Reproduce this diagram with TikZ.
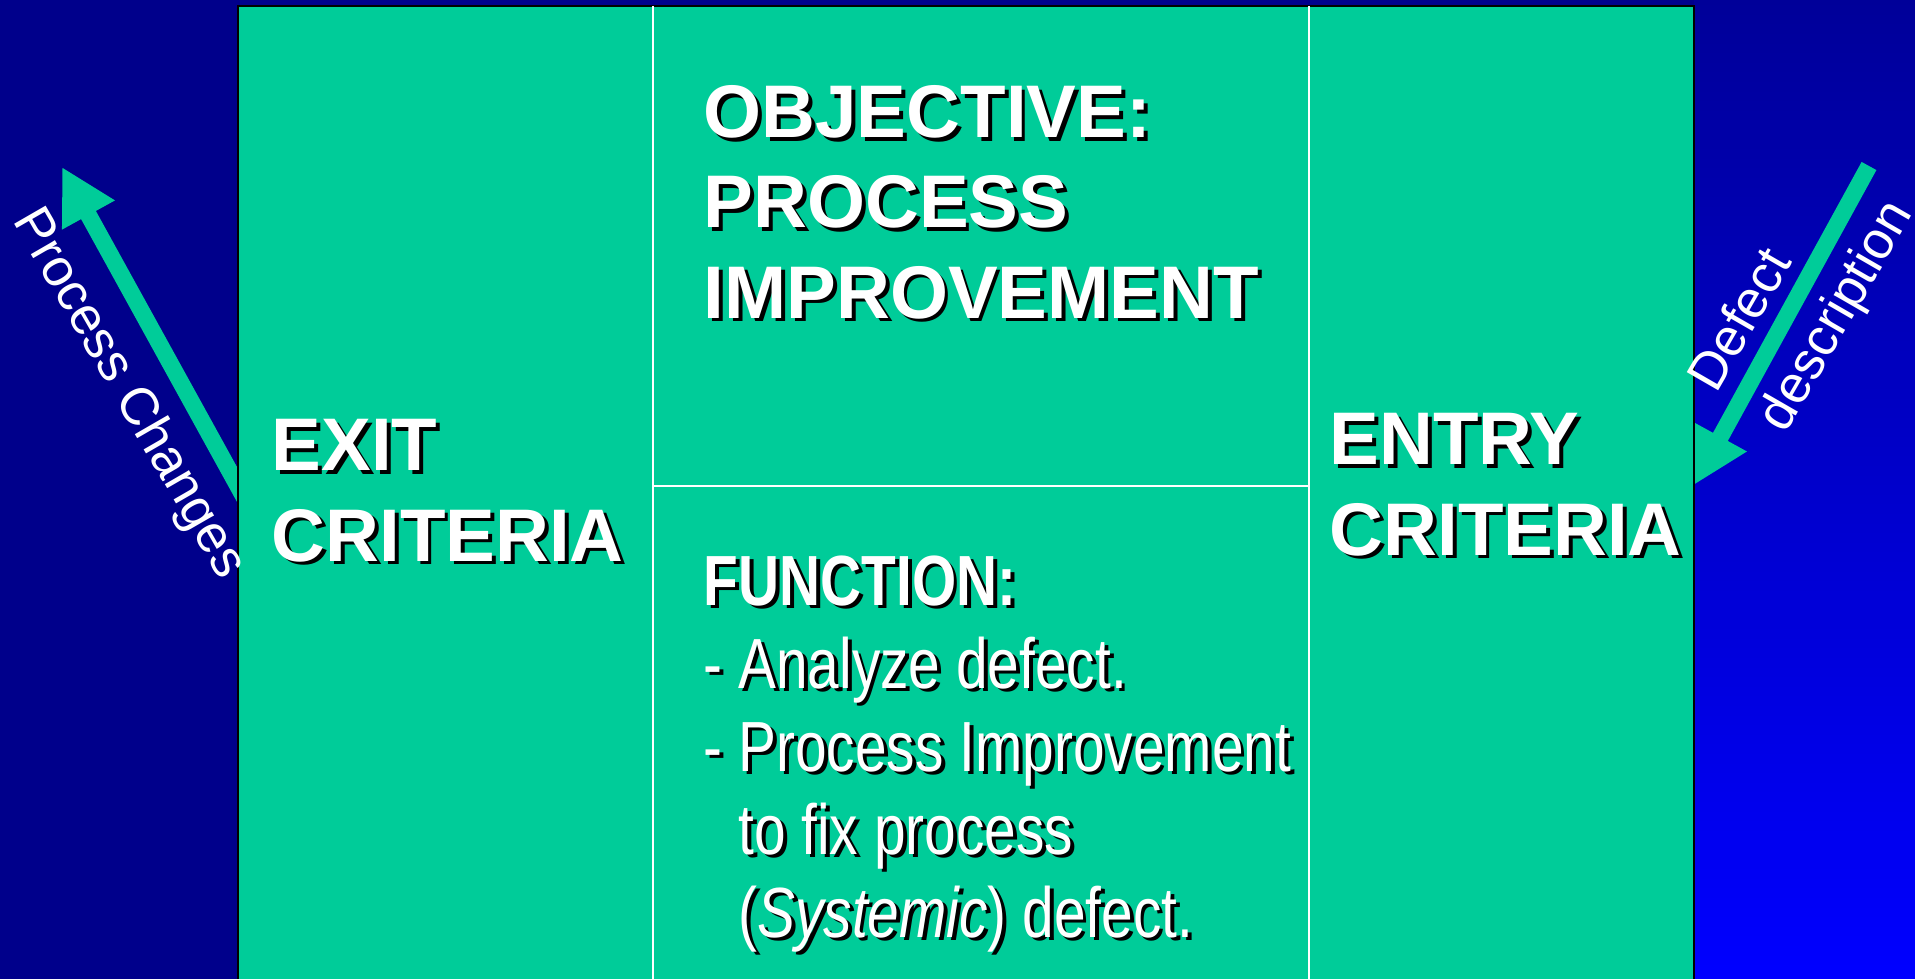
\documentclass[tikz,border=0pt]{standalone}
\usepackage{fontspec}
\setmainfont{Liberation Sans}
\setsansfont{Liberation Sans}
\newfontfamily\narrowfont[FakeStretch=0.8]{Liberation Sans}
\usetikzlibrary{arrows.meta}
\definecolor{boxgreen}{RGB}{0,204,153}
\definecolor{slidenavy}{RGB}{0,0,139}
\definecolor{slidetop}{RGB}{0,0,153}
\definecolor{slideblue}{RGB}{0,0,255}
% white text with a black drop shadow
\newcommand\shadowed[1]{\leavevmode\rlap{\color{black}\kern1.1pt\raisebox{-1.1pt}{#1}}#1}
\tikzset{every picture/.style={/utils/exec={\sffamily}},
  every node/.style={align=left, % multi-line labels
    inner sep=0pt,
    text=white},
  heading/.style={font=\bfseries\fontsize{21.2}{25.6}\selectfont, anchor=base west},
  bullets/.style={font=\narrowfont\fontsize{20.2}{23.6}\selectfont, anchor=base west},
  flowlabel/.style={font=\fontsize{15}{22.8}\selectfont},
  flowarrow/.style={ % the two green arrows outside the box
    draw=boxgreen, line width=4.8pt,
    -{Triangle[length=15.6pt, width=16pt]}},
  divider/.style={draw=white, line width=0.6pt}}

\begin{document}
\begin{tikzpicture}[x=0.01cm, y=-0.01cm] % one unit is one pixel
  \useasboundingbox (0,0) rectangle (1915,979);

  % background
  \fill[slidenavy] (0,0) rectangle (1915,979);
  \shade[top color=slidetop, bottom color=slideblue] (1694,0) rectangle (1915,979);

  \coordinate (changesfrom) at (250,508);
  \coordinate (changesto) at (62,167);
  \coordinate (defectfrom) at (1869,166);
  \coordinate (defectto) at (1694,485);
  \draw[flowarrow] (changesfrom) -- (changesto);
  \draw[flowarrow] (defectfrom) -- (defectto);

  % the box and its cells
  \draw[fill=boxgreen, draw=black, line width=0.6pt] (238,6) rectangle (1694,995);
  \draw[divider] (653,6) -- (653,995);
  \draw[divider] (1309,6) -- (1309,995);
  \draw[divider] (653,486) -- (1309,486);

  % anchors are on the baseline of the last line
  \node [heading] (lobjective) at (703,318) {
    \shadowed{OBJECTIVE:}\\
    \shadowed{PROCESS}\\
    \shadowed{IMPROVEMENT}};
  \node [heading] (lexit) at (271,561) {
    \shadowed{EXIT}\\
    \shadowed{CRITERIA}};
  \node [heading] (lentry) at (1329,555) {
    \shadowed{ENTRY}\\
    \shadowed{CRITERIA}};
  \node [bullets] (lfunction) at (703,937) {
    \shadowed{\textbf{FUNCTION:}}\\
    \shadowed{- Analyze defect.}\\
    \shadowed{- Process Improvement}\\
    \shadowed{\phantom{- }to fix process}\\
    \shadowed{\phantom{- }(\textit{Systemic}) defect.}};

  \node [flowlabel, rotate=-60] (lchanges) at (128,394) {Process Changes};
  \node [flowlabel, rotate=60] (ldefect) at (1803,297) {
    Defect\\
    description};
\end{tikzpicture}
\end{document}
